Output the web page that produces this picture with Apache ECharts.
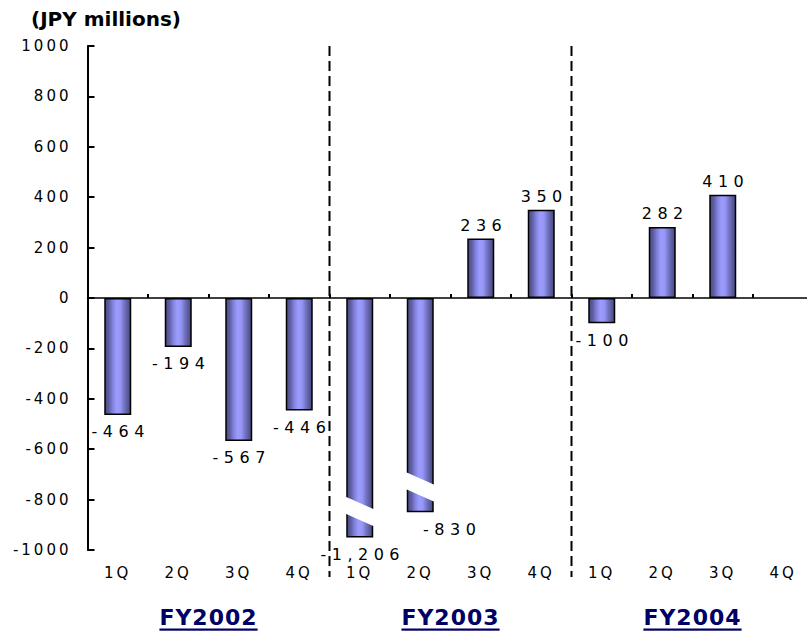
<!DOCTYPE html>
<html>
<head>
<meta charset="utf-8">
<script src="https://cdn.jsdelivr.net/npm/echarts@6/dist/echarts.min.js"></script>
<style>
html,body{margin:0;padding:0;background:#fff;}
#chart{width:807px;height:632px;}
#chart text[style*="16px"]{letter-spacing:5.5px;}
#chart text[style*="15px"]{letter-spacing:3px;}
#chart text[style*="22px"]{letter-spacing:1px;text-decoration:underline;}
</style>
</head>
<body>
<div id="chart"></div>
<script>
// ---- data ----
const categories = ['1Q','2Q','3Q','4Q','1Q','2Q','3Q','4Q','1Q','2Q','3Q','4Q'];
const fiscalYears = ['FY2002','FY2003','FY2004'];
const values = [-464, -194, -567, -446, -1206, -830, 236, 350, -100, 282, 410, null];
// broken (truncated) bars: index, depth drawn, and where the break band sits
const brokenBars = [4, 5];
const brokenDrawnTo = [-950, -850];
const breakCenters = [-847, -750];
const yMin = -1000, yMax = 1000, yInterval = 200;

const FONT = 'DejaVu Sans';

const drawn = values.map((v, i) => {
  const k = brokenBars.indexOf(i);
  return k >= 0 ? brokenDrawnTo[k] : v;
});

const barGradient = {
  type: 'linear', x: 0, y: 0, x2: 1, y2: 0,
  colorStops: [
    {offset: 0, color: '#4a4a82'},
    {offset: 0.15, color: '#5e5ea4'},
    {offset: 0.3, color: '#8282dc'},
    {offset: 0.45, color: '#9c9cff'},
    {offset: 0.6, color: '#9696f6'},
    {offset: 0.75, color: '#7474c4'},
    {offset: 0.9, color: '#58589a'},
    {offset: 1, color: '#46467c'}
  ]
};

const barData = drawn.map((v, i) => {
  if (v == null) return null;
  return {
    value: v,
    label: {
      position: v >= 0 ? 'top' : 'bottom',
      distance: v >= 0 ? 5 : 9,
      offset: i === 5 ? [32, 0] : [3, 0]
    }
  };
});

const chart = echarts.init(document.getElementById('chart'), null, {renderer: 'svg'});

chart.setOption({
  animation: false,
  backgroundColor: '#fff',
  title: {
    text: '(JPY millions)', left: 31, top: 9, padding: 0,
    textStyle: {fontSize: 20, fontWeight: 'bold', fontFamily: FONT, color: '#000'}
  },
  grid: {left: 87.5, top: 46, width: 726, height: 504, outerBoundsMode: 'none'},
  xAxis: [
    {
      type: 'category', data: categories, position: 'bottom',
      axisLine: {onZero: true, lineStyle: {color: '#000', width: 1.5}},
      axisTick: {show: true, inside: true, length: 4, lineStyle: {color: '#000', width: 2}},
      axisLabel: {show: false},
      splitLine: {show: false}
    },
    {
      type: 'category', data: categories, position: 'bottom',
      axisLine: {show: false, onZero: false},
      axisTick: {show: false},
      axisLabel: {margin: 15, fontSize: 15, fontFamily: FONT, color: '#000'},
      splitLine: {show: false}
    },
    {
      type: 'category', data: fiscalYears, position: 'bottom',
      axisLine: {show: false, onZero: false},
      axisTick: {show: false},
      axisLabel: {margin: 56, fontSize: 22, fontWeight: 'bold', fontFamily: FONT, color: '#000066'},
      splitLine: {show: false}
    }
  ],
  yAxis: {
    type: 'value', min: yMin, max: yMax, interval: yInterval,
    axisLine: {show: true, lineStyle: {color: '#000', width: 2}},
    axisTick: {show: true, inside: true, length: 7, lineStyle: {color: '#000', width: 2}},
    axisLabel: {margin: 16, fontSize: 15, fontFamily: FONT, color: '#000', formatter: v => String(v)},
    splitLine: {show: false}
  },
  series: [
    {
      type: 'bar', xAxisIndex: 0, yAxisIndex: 0,
      data: barData,
      barWidth: 27,
      itemStyle: {color: barGradient, borderColor: '#000', borderWidth: 1.5},
      label: {
        show: true, fontSize: 16, fontFamily: FONT, color: '#000',
        formatter: p => values[p.dataIndex].toLocaleString('en-US')
      },
      silent: true
    },
    {
      type: 'custom', xAxisIndex: 0, yAxisIndex: 0, clip: false, silent: true, z: 5,
      data: brokenBars.map((idx, k) => [idx, breakCenters[k]]),
      renderItem: (params, api) => {
        const c = api.coord([api.value(0), api.value(1)]);
        const hw = 18, slope = 8, half = 8.5;
        return {
          type: 'polygon',
          shape: {points: [
            [c[0] - hw, c[1] - half - slope],
            [c[0] + hw, c[1] - half + slope],
            [c[0] + hw, c[1] + half + slope],
            [c[0] - hw, c[1] + half - slope]
          ]},
          style: {fill: '#fff', stroke: null}
        };
      }
    },
    {
      type: 'custom', xAxisIndex: 2, yAxisIndex: 0, clip: false, silent: true, z: 6,
      data: fiscalYears.slice(0, -1).map((fy, i) => [i, yMax]),
      renderItem: (params, api) => {
        const x = api.coord([api.value(0), 0])[0] + api.size([1, 0])[0] / 2;
        const top = api.coord([0, yMax])[1];
        const bottom = api.coord([0, yMin])[1] + 27;
        return {
          type: 'line',
          shape: {x1: x, y1: top, x2: x, y2: bottom},
          style: {stroke: '#000', lineWidth: 2, lineDash: [10, 5]}
        };
      }
    }
  ]
});

function spaceText() {
  document.querySelectorAll('#chart svg text').forEach(t => {
    const cs = getComputedStyle(t);
    const fs = Math.round(parseFloat(cs.fontSize));
    const bold = cs.fontWeight === 'bold' || parseInt(cs.fontWeight, 10) >= 600;
    if (!bold && fs === 16) t.style.letterSpacing = '5.5px';
    else if (!bold && fs === 15) t.style.letterSpacing = '3px';
    else if (bold && fs === 22) { t.style.letterSpacing = '1px'; t.style.textDecoration = 'underline'; }
  });
}
chart.on('finished', spaceText);
spaceText();
setTimeout(spaceText, 100);
setTimeout(spaceText, 400);
</script>
</body>
</html>
